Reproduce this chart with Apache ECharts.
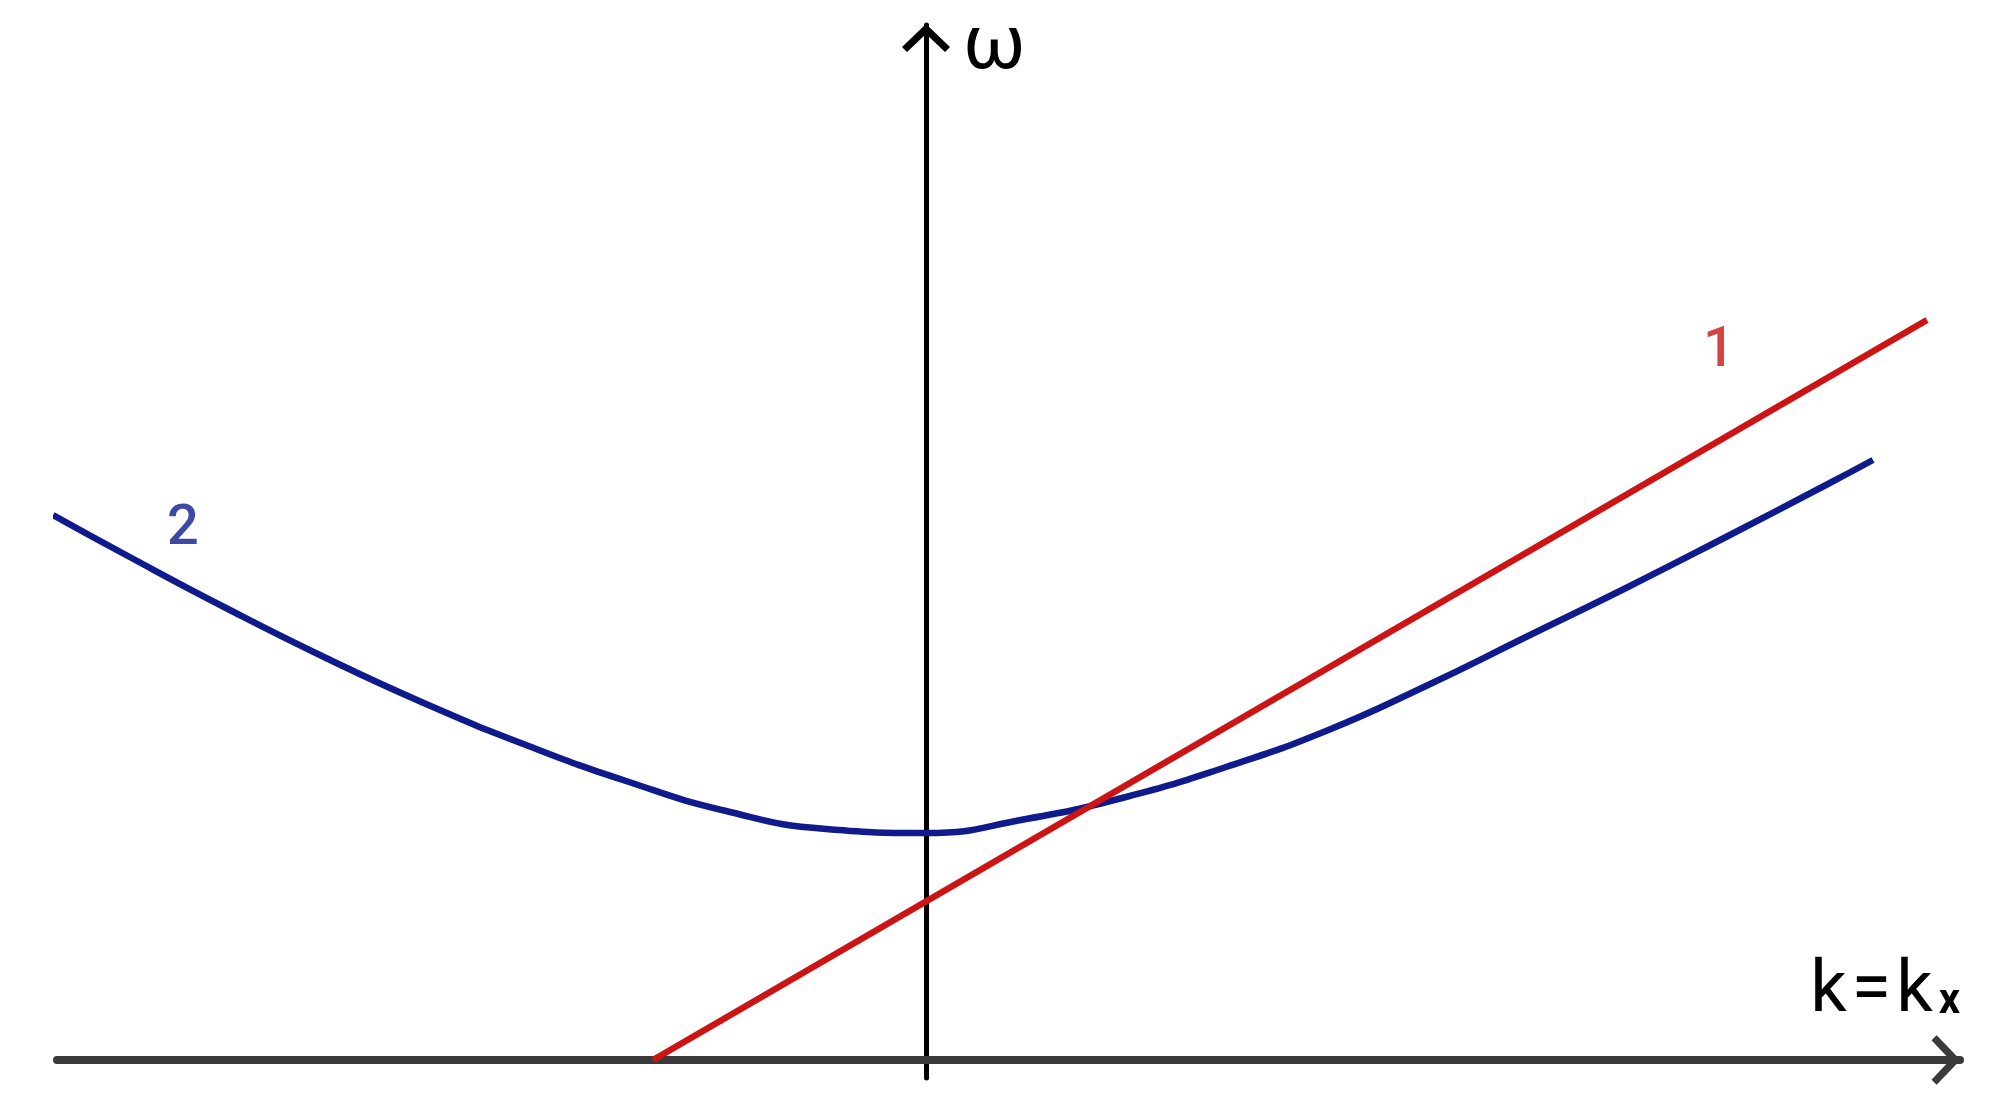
<!DOCTYPE html>
<html>
<head>
<meta charset="utf-8">
<script src="https://cdn.jsdelivr.net/npm/echarts@6/dist/echarts.min.js"></script>
<style>
  html, body { margin: 0; padding: 0; background: #ffffff; }
  #chart { width: 1995px; height: 1119px; }
</style>
</head>
<body>
<div id="chart"></div>
<script>
// ---- data (k and omega in arbitrary schematic units) ----
const line1K = [-2.73, 10.01];
const line1Omega = [0.0, 7.40];

const curve2K = [-8.73, -8, -7, -6, -5, -4, -3, -2, -1, 0, 1, 2, 3, 4, 5, 6, 7, 8, 9, 9.47];
const curve2Omega = [5.45, 5.05, 4.52, 4.02, 3.56, 3.15, 2.79, 2.49, 2.31, 2.27, 2.41, 2.63, 2.93, 3.29, 3.74, 4.23, 4.72, 5.23, 5.75, 6.00];

const curveLabels = ['1', '2'];
const curveLabelK = [7.93, -7.43];
const curveLabelOmega = [7.08, 5.30];

const xAxisMain = 'k';
const xAxisEq = '=';
const xAxisSub = 'x';
const yAxisName = 'ω';

const kRange = [-8.69, 10.34];
const omegaRange = [-0.18, 10.35];

// ---- build ----
const zip = (a, b) => a.map((v, i) => [v, b[i]]);
const chevron = 'path://M24,0 L48,23 L43,28 L24,10 L5,28 L0,23 Z';

const chart = echarts.init(document.getElementById('chart'), null, { renderer: 'canvas' });
chart.setOption({
  backgroundColor: '#ffffff',
  animation: false,
  grid: { left: 57, right: 35, top: 25, bottom: 41 },
  xAxis: {
    type: 'value', min: kRange[0], max: kRange[1],
    axisLine: {
      show: true, onZero: true,
      lineStyle: { color: '#3a3a3a', width: 8 },
      symbol: ['none', chevron], symbolSize: [52, 29], symbolOffset: [0, -14]
    },
    axisTick: { show: false }, axisLabel: { show: false }, splitLine: { show: false },
    name: '{m|' + xAxisMain + '}{e|' + xAxisEq + '}{m|' + xAxisMain + '}{s|' + xAxisSub + '}',
    nameLocation: 'end', nameGap: 0,
    nameTextStyle: {
      align: 'right', verticalAlign: 'bottom', padding: [0, 0, 31, 0],
      rich: {
        m: { fontFamily: 'Roboto', fontSize: 72, lineHeight: 72, color: '#000' },
        e: { fontFamily: 'Roboto', fontSize: 72, lineHeight: 72, color: '#000', padding: [0, 5, 0, 5] },
        s: { fontFamily: 'Roboto', fontSize: 42, fontWeight: 'bold', lineHeight: 42, color: '#000', verticalAlign: 'bottom', padding: [0, 0, 6, 6] }
      }
    }
  },
  yAxis: {
    type: 'value', min: omegaRange[0], max: omegaRange[1],
    axisLine: {
      show: true, onZero: true,
      lineStyle: { color: '#000000', width: 5 },
      symbol: ['none', chevron], symbolSize: [50, 28], symbolOffset: [0, -13]
    },
    axisTick: { show: false }, axisLabel: { show: false }, splitLine: { show: false },
    name: yAxisName, nameLocation: 'end', nameGap: -24,
    nameTextStyle: {
      fontFamily: 'Roboto', fontSize: 76, color: '#000',
      align: 'left', verticalAlign: 'middle', padding: [0, 0, 0, 37]
    }
  },
  series: [
    {
      name: '1', type: 'line', data: zip(line1K, line1Omega),
      showSymbol: false, clip: false,
      lineStyle: { color: '#cc1414', width: 6.5 }, z: 3
    },
    {
      name: '2', type: 'line', data: zip(curve2K, curve2Omega),
      showSymbol: false, smooth: 0.5, clip: false,
      lineStyle: { color: '#0f1a8c', width: 6.5 }, z: 2
    },
    {
      type: 'scatter', symbolSize: 0, clip: false, silent: true,
      data: curveLabels.map((t, i) => ({
        name: t, value: [curveLabelK[i], curveLabelOmega[i]],
        label: { color: i === 0 ? '#cc1414' : '#0f1a8c' }
      })),
      label: {
        show: true, position: 'inside', formatter: p => p.name,
        fontFamily: 'Roboto', fontSize: 56, fontWeight: 500
      },
      itemStyle: { color: 'transparent' }
    }
  ]
});
</script>
</body>
</html>
